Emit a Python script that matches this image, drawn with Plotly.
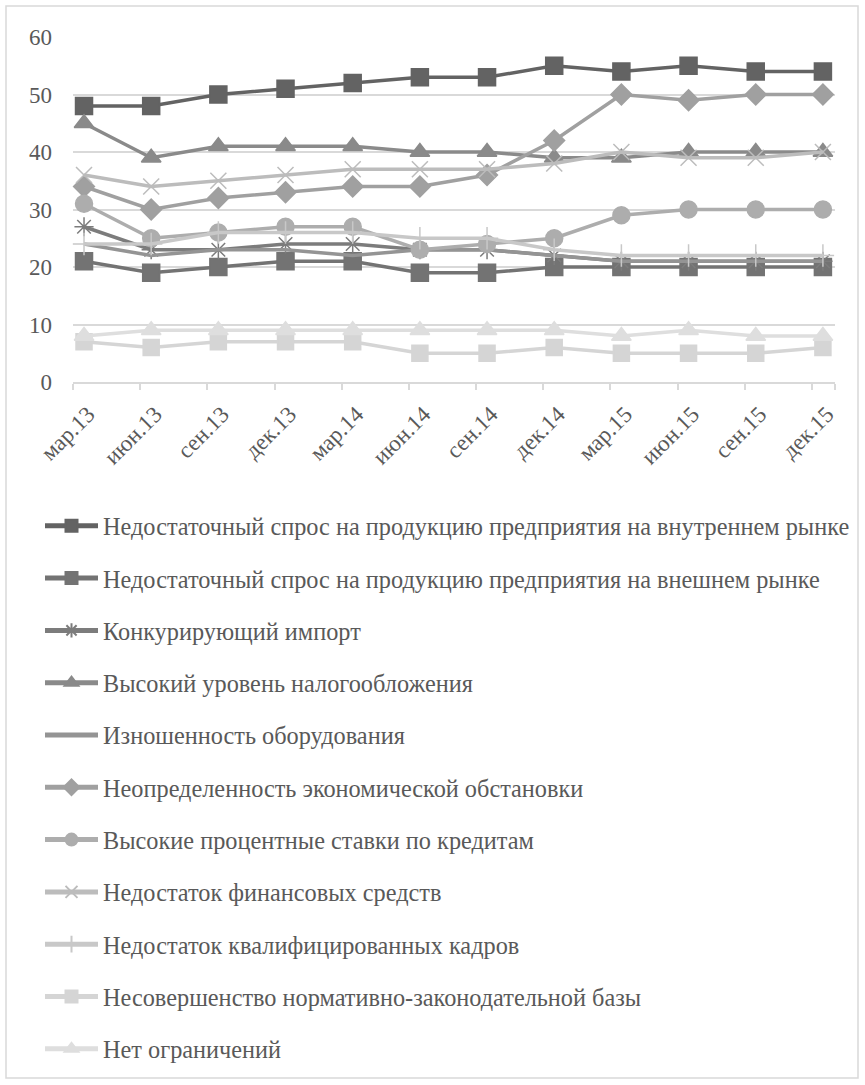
import plotly.graph_objects as go

# Quarterly survey periods
periods = ["мар.13", "июн.13", "сен.13", "дек.13", "мар.14", "июн.14",
           "сен.14", "дек.14", "мар.15", "июн.15", "сен.15", "дек.15"]

# Share of enterprises naming each factor, %
demand_domestic = [48, 48, 50, 51, 52, 53, 53, 55, 54, 55, 54, 54]
demand_foreign = [21, 19, 20, 21, 21, 19, 19, 20, 20, 20, 20, 20]
competing_imports = [27, 23, 23, 24, 24, 23, 23, 22, 21, 21, 21, 21]
high_taxes = [45, 39, 41, 41, 41, 40, 40, 39, 39, 40, 40, 40]
worn_equipment = [24, 22, 23, 23, 22, 23, 23, 22, 21, 21, 21, 21]
uncertainty = [34, 30, 32, 33, 34, 34, 36, 42, 50, 49, 50, 50]
interest_rates = [31, 25, 26, 27, 27, 23, 24, 25, 29, 30, 30, 30]
lack_of_funds = [36, 34, 35, 36, 37, 37, 37, 38, 40, 39, 39, 40]
lack_of_staff = [24, 24, 26, 26, 26, 25, 25, 23, 22, 22, 22, 22]
weak_legislation = [7, 6, 7, 7, 7, 5, 5, 6, 5, 5, 5, 6]
no_limits = [8, 9, 9, 9, 9, 9, 9, 9, 8, 9, 8, 8]

series = [
    ("Недостаточный спрос на продукцию предприятия на внутреннем рынке", demand_domestic, "#636363", "square", 17),
    ("Недостаточный спрос на продукцию предприятия на внешнем рынке", demand_foreign, "#737373", "square", 17),
    ("Конкурирующий импорт", competing_imports, "#7c7c7c", "asterisk-open", 16),
    ("Высокий уровень налогообложения", high_taxes, "#8a8a8a", "triangle-up", 17),
    ("Изношенность оборудования", worn_equipment, "#949494", None, 0),
    ("Неопределенность экономической обстановки", uncertainty, "#a0a0a0", "diamond", 16),
    ("Высокие процентные ставки по кредитам", interest_rates, "#adadad", "circle", 17),
    ("Недостаток финансовых средств", lack_of_funds, "#bcbcbc", "x-thin-open", 16),
    ("Недостаток квалифицированных кадров", lack_of_staff, "#c8c8c8", "cross-thin-open", 16),
    ("Несовершенство нормативно-законодательной базы", weak_legislation, "#d5d5d5", "square", 16),
    ("Нет ограничений", no_limits, "#dedede", "triangle-up", 17),
]

W, H = 865, 1085
L, R, T, B = 73, 835, 37, 382  # plot area edges, px
span_x = R - L
span_y = B - T


def px_to_paper_x(px):
    return (px - L) / span_x


def px_to_paper_y(py):
    return (B - py) / span_y


x_idx = list(range(len(periods)))
fig = go.Figure()

legend_y0 = 526
legend_step = 52.3
layout_legends = {}
for k, (name, vals, color, sym, size) in enumerate(series):
    lg = "legend" if k == 0 else f"legend{k + 1}"
    mode = "lines" if sym is None else "lines+markers"
    marker = dict(size=size, color=color, symbol=sym or "circle",
                  line=dict(color=color, width=1.5)) if sym else None
    fig.add_trace(go.Scatter(
        x=x_idx, y=vals, name=name, mode=mode,
        line=dict(color=color, width=3.5),
        marker=marker, legend=lg, cliponaxis=False,
    ))
    layout_legends[lg] = dict(
        x=px_to_paper_x(40), y=px_to_paper_y(legend_y0 + k * legend_step),
        xref="paper", yref="paper",
        xanchor="left", yanchor="middle",
        font=dict(family="Liberation Serif", size=24.3, color="#595959"),
        bgcolor="rgba(0,0,0,0)", itemwidth=53, itemsizing="constant",
    )

fig.update_layout(
    width=W, height=H,
    margin=dict(l=L, r=W - R, t=T, b=H - B, autoexpand=False),
    paper_bgcolor="white", plot_bgcolor="white",
    showlegend=True,
    font=dict(family="Liberation Serif", size=23, color="#595959"),
    xaxis=dict(
        range=[-0.164, 11.18],
        tickmode="array", tickvals=x_idx, ticktext=periods,
        tickangle=-45, ticks="", showgrid=False,
        showline=True, linecolor="#d9d9d9", linewidth=1.5,
        zeroline=False, automargin=False,
        ticklabelstandoff=8, ticklabelshift=4,
        minor=dict(tickmode="array", tickvals=[i - 0.164 for i in x_idx] + [11.18],
                   ticks="outside", ticklen=6, tickcolor="#d9d9d9", tickwidth=1.5),
        tickfont=dict(family="Liberation Serif", size=23, color="#595959"),
    ),
    yaxis=dict(
        range=[0, 60], tickvals=[0, 10, 20, 30, 40, 50, 60],
        showgrid=True, gridcolor="#d9d9d9", gridwidth=1.5,
        zeroline=False, showline=False, ticks="", automargin=False,
        ticklabelstandoff=20,
        tickfont=dict(family="Liberation Serif", size=23, color="#595959"),
    ),
    **layout_legends,
)

# Outer chart frame
fig.add_shape(type="rect", xref="paper", yref="paper",
              x0=px_to_paper_x(6), x1=px_to_paper_x(858),
              y0=px_to_paper_y(1078), y1=px_to_paper_y(6),
              line=dict(color="#d9d9d9", width=1.5), layer="below")

fig.write_html("out.html")
